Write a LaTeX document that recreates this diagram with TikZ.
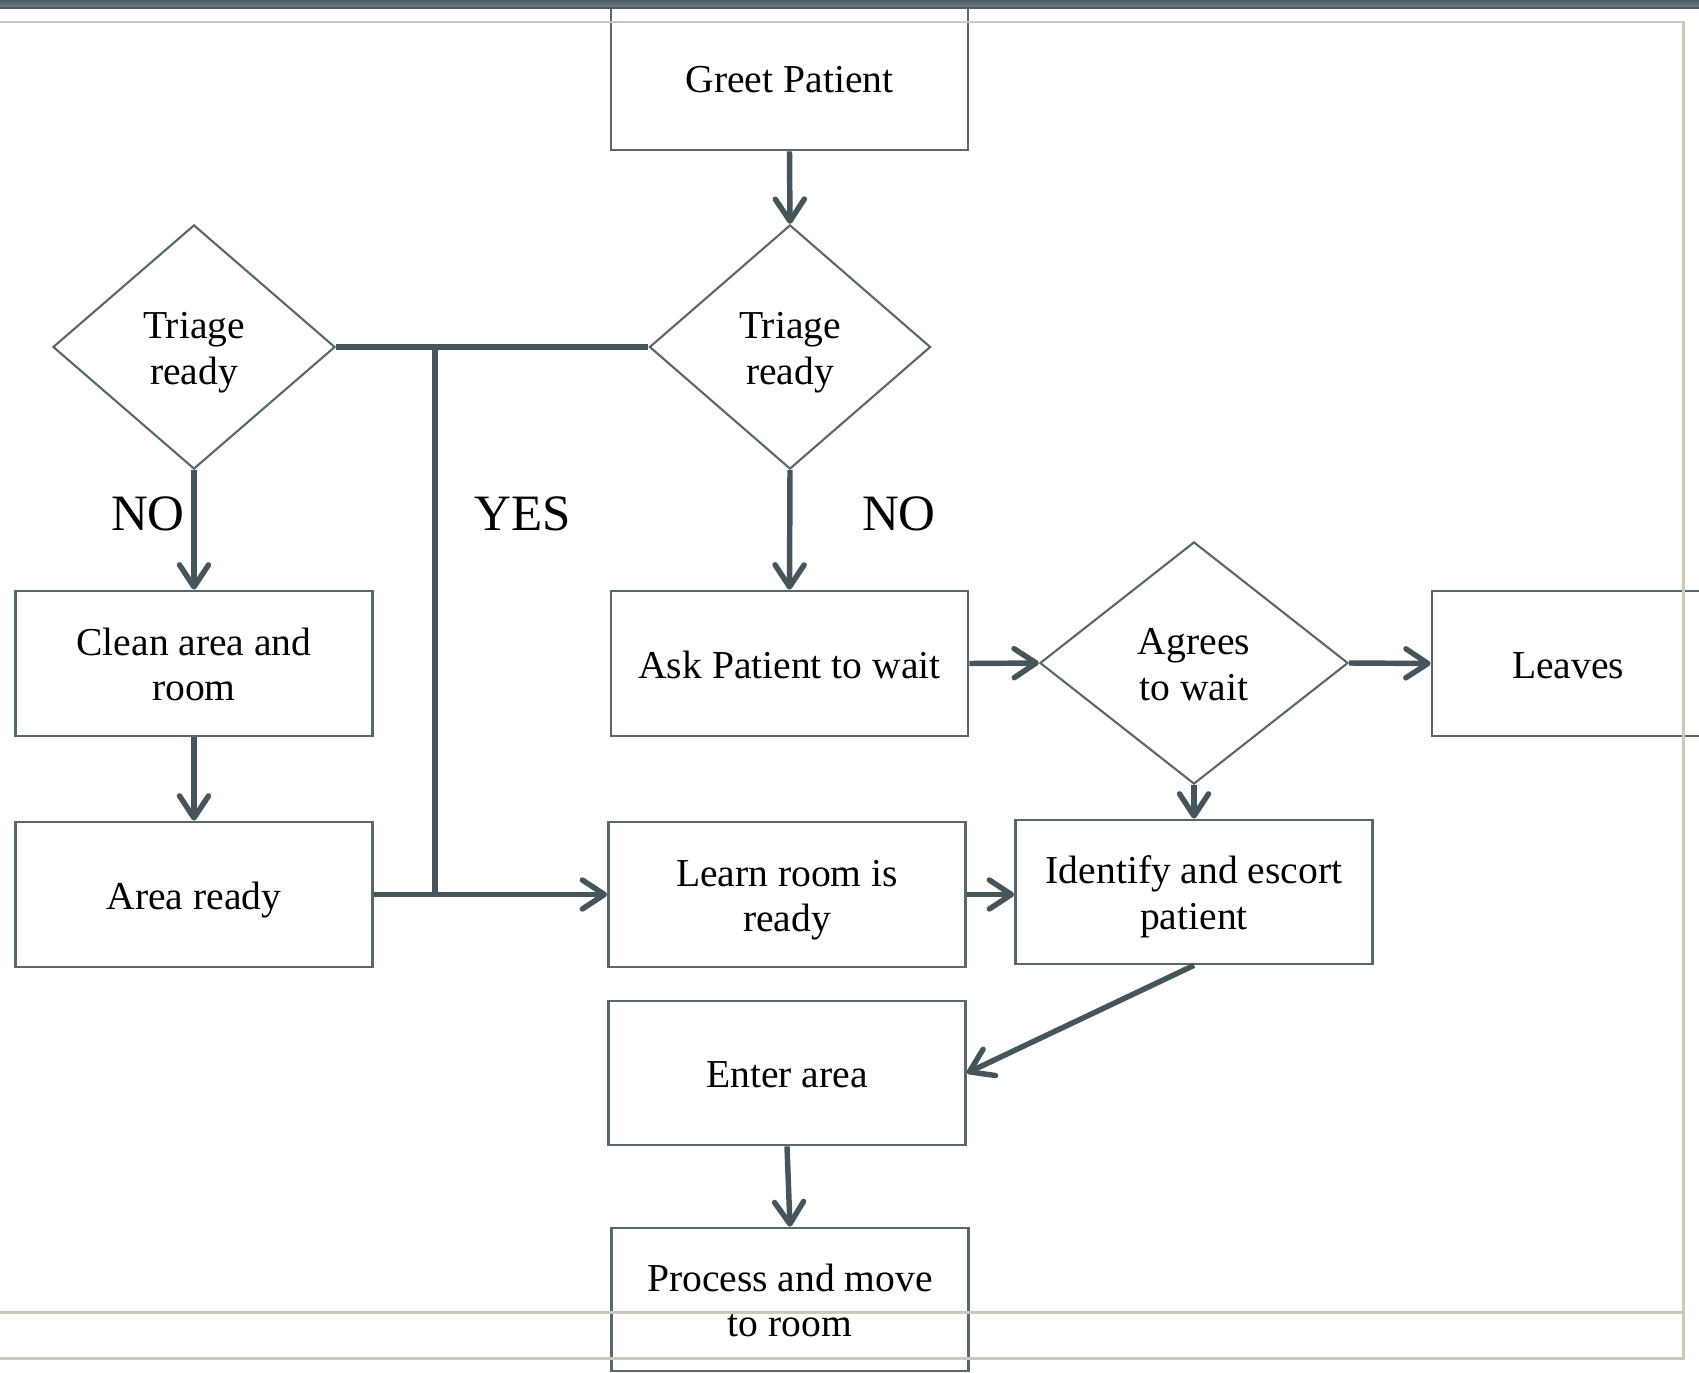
\documentclass[tikz,border=0pt]{standalone}
\usepackage{fontspec}
\setmainfont{Liberation Serif}
\usetikzlibrary{shapes.geometric,arrows.meta}
\definecolor{slate}{HTML}{46555C}
\definecolor{edgegray}{HTML}{5A686E}
\definecolor{framegray}{HTML}{C9CABF}
\definecolor{barA}{HTML}{4E5D65}
\definecolor{barB}{HTML}{76858C}
% centred lines of text, set a little below the middle of their shape
\newcommand\lowtext[1]{\raisebox{0pt}[\dimexpr\height+0.11cm\relax][\depth]{\begin{tabular}{@{}c@{}}#1\end{tabular}}}
\begin{document}
\begin{tikzpicture}[x=0.01cm,y=-0.01cm,
  stepfont/.style={font=\fontsize{11.25}{12.9}\selectfont},
  box/.style={draw=edgegray, line width=0.75pt, rectangle, minimum width=3.57cm,
    minimum height=1.45cm, inner sep=0pt, stepfont},
  decision/.style={draw=edgegray, line width=0.6pt, diamond,
    inner sep=0pt, stepfont},
  conn/.style={draw=slate, line width=1.55pt},
  flow/.style={conn, -{Straight Barb[length=2.2mm,width=2.9mm,round]}},
  answer/.style={inner sep=0pt, font=\fontsize{14.5}{16}\selectfont},
  frameline/.style={draw=framegray, line width=0.85pt}
]
\useasboundingbox (0,0) rectangle (1699,1373);
\clip (0,0) rectangle (1699,1373);
\fill[white] (0,0) rectangle (1699,1373);

% process steps
\node[box] (greet)    at (789.5,77.5)  {\lowtext{Greet Patient}};
\node[box] (clean)    at (194,663.5)   {\lowtext{Clean area and\\room}};
\node[box] (area)     at (194,894.5)   {\lowtext{Area ready}};
\node[box] (ask)      at (789.5,663.5) {\lowtext{Ask Patient to wait}};
\node[box, minimum width=2.72cm] (leaves) at (1568,663.5) {\lowtext{Leaves}};
\node[box] (learn)    at (787,894.5)   {\lowtext{Learn room is\\ready}};
\node[box, minimum height=1.44cm] (identify) at (1194,892) {\lowtext{Identify and escort\\patient}};
\node[box, minimum height=1.44cm] (enter)    at (787,1073)  {\lowtext{Enter area}};
\node[box, minimum height=1.43cm] (process)  at (790,1299.5) {\lowtext{Process and move\\to room}};

% decisions
\node[decision, minimum width=2.82cm, minimum height=2.44cm] (triageL) at (194,347) {\lowtext{Triage\\ready}};
\node[decision, minimum width=2.81cm, minimum height=2.44cm] (triageR) at (790,347) {\lowtext{Triage\\ready}};
\node[decision, minimum width=3.08cm, minimum height=2.42cm] (agrees)  at (1194,663) {\lowtext{Agrees\\to wait}};

% answer labels
\node[answer] (noL)  at (148,514) {NO};
\node[answer] (yes)  at (523,514) {YES};
\node[answer] (noR)  at (899,514) {NO};

% junction of the YES branch
\coordinate (jtop) at (435,347);
\coordinate (jbot) at (435,894.5);

% connectors
\draw[flow] (greet.south) -- (triageR.north);
\draw[flow] (triageL.south) -- (clean.north);
\draw[flow] (triageR.south) -- (ask.north);
\draw[flow] (clean.south) -- (area.north);
\draw[conn] (triageL.east) -- (triageR.west);
\draw[conn] (jtop) -- (jbot);
\draw[flow] (area.east) -- (learn.west);
\draw[flow] (ask.east) -- (agrees.west);
\draw[flow] (agrees.east) -- (leaves.west);
\draw[flow] (agrees.south) -- (identify.north);
\draw[flow] (learn.east) -- (learn.east -| identify.west);
\draw[flow] (identify.south) -- (enter.east);
\draw[flow] (enter.south) -- (process.north);

% slide frame
\draw[frameline] (0,22) -- (1683,22) -- (1683,1358) -- (0,1358);
\draw[frameline] (0,1312) -- (1683,1312);
\shade[top color=barA, bottom color=barB, shading angle=0] (0,0) rectangle (1699,9);
\fill[barA] (0,9) rectangle (1699,7);
\end{tikzpicture}
\end{document}
